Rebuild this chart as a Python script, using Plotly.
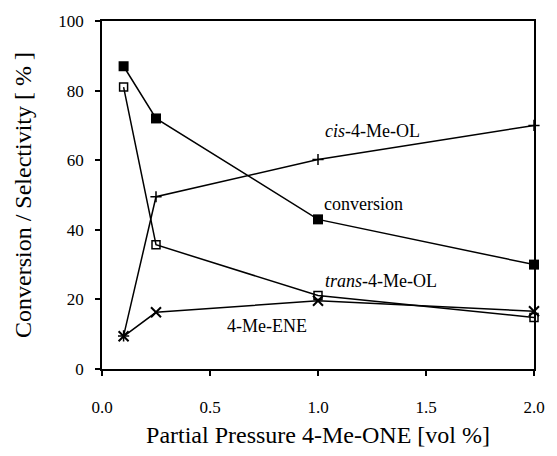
import plotly.graph_objects as go

pressure = [0.1, 0.25, 1.0, 2.0]
conversion = [87, 72, 43, 30]
trans_ol = [81, 35.7, 21.1, 14.8]
cis_ol = [9.5, 49.5, 60.2, 70]
me_ene = [9.4, 16.3, 19.6, 16.6]

font_family = "Times New Roman, Times, Liberation Serif, DejaVu Serif, serif"
fig = go.Figure()

line = dict(color="black", width=1.5)
fig.add_trace(go.Scatter(x=pressure, y=conversion, mode="lines+markers", line=line, cliponaxis=False,
                         marker=dict(symbol="square", size=10, color="black")))
fig.add_trace(go.Scatter(x=pressure, y=trans_ol, mode="lines+markers", line=line, cliponaxis=False,
                         marker=dict(symbol="square-open", size=8, color="black", line=dict(width=1.5))))
fig.add_trace(go.Scatter(x=pressure, y=cis_ol, mode="lines+markers", line=line, cliponaxis=False,
                         marker=dict(symbol="cross-thin", size=8, color="black", line=dict(width=1.5, color="black"))))
fig.add_trace(go.Scatter(x=pressure, y=me_ene, mode="lines+markers", line=line, cliponaxis=False,
                         marker=dict(symbol="x-thin", size=10, color="black", line=dict(width=2, color="black"))))

ann_pos = [(1.25, 68.5), (1.21, 47.5), (1.29, 25.2), (0.765, 12.3)]
ann_text = ["<i>cis</i>-4-Me-OL", "conversion", "<i>trans</i>-4-Me-OL", "4-Me-ENE"]
for (ax_, ay_), t in zip(ann_pos, ann_text):
    fig.add_annotation(x=ax_, y=ay_, text=t, showarrow=False,
                       font=dict(family=font_family, size=18, color="black"))

fig.update_layout(
    width=557, height=456,
    margin=dict(l=102, r=21, t=20, b=86),
    paper_bgcolor="white", plot_bgcolor="white",
    showlegend=False,
    font=dict(family=font_family, color="black", size=17),
)
fig.update_xaxes(range=[0, 2.0], tickvals=[0, 0.5, 1.0, 1.5, 2.0], ticktext=["0.0", "0.5", "1.0", "1.5", "2.0"],
                 showgrid=False, zeroline=False, showline=True, linecolor="black", linewidth=1.5,
                 mirror=True, ticks="outside", ticklen=5, tickwidth=1.5, tickcolor="black",
                 ticklabelstandoff=17,
                 title=dict(text="Partial Pressure 4-Me-ONE [vol %]", font=dict(family=font_family, size=24), standoff=10),
                 tickfont=dict(family=font_family, size=17))
fig.update_yaxes(range=[0, 100], tickvals=[0, 20, 40, 60, 80, 100],
                 showgrid=False, zeroline=False, showline=True, linecolor="black", linewidth=1.5,
                 mirror=True, ticks="outside", ticklen=5, tickwidth=1.5, tickcolor="black",
                 ticklabelstandoff=8,
                 title=dict(text="Conversion / Selectivity [ % ]", font=dict(family=font_family, size=24), standoff=20),
                 tickfont=dict(family=font_family, size=17))

fig.write_html("out.html")
